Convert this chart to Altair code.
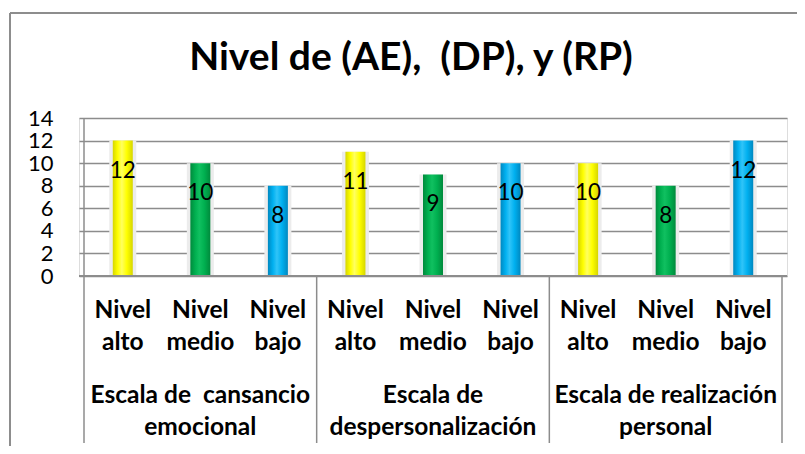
import altair as alt
import pandas as pd

# ---- data ----
title_text = ["Nivel de (AE), \u00a0(DP), y (RP)"]
groups = ["cansancio", "despersonalizacion", "realizacion"]
group_line1 = ["Escala de \u00a0cansancio", "Escala de", "Escala de realización"]
group_line2 = ["emocional", "despersonalización", "personal"]
levels = ["alto", "medio", "bajo"]
level_line1 = ["Nivel", "Nivel", "Nivel"]
level_line2 = ["alto", "medio", "bajo"]
values = [12, 10, 8, 11, 9, 10, 10, 8, 12]
y_ticks = [0, 2, 4, 6, 8, 10, 12, 14]

rows = []
for gi, g in enumerate(groups):
    for li, lv in enumerate(levels):
        i = gi * 3 + li
        rows.append({"group": g, "level": lv, "pos": i + 0.5, "value": values[i],
                     "l1": level_line1[li], "l2": level_line2[li]})
df = pd.DataFrame(rows)

gdf = pd.DataFrame({"pos": [gi * 3 + 1.5 for gi in range(len(groups))],
                    "g1": group_line1, "g2": group_line2})
sep = pd.DataFrame({"pos": [0, 3, 6, 9], "top": [14, 0, 0, 0]})
tdf = pd.DataFrame({"t": title_text})

W, H = 708, 158
GRID = "#8c8c8c"
FONT = "Lato"
CAT_FS = 24.5

x = alt.X("pos:Q", scale=alt.Scale(domain=[0, 9]), axis=None)
yscale = alt.Scale(domain=[0, 14], nice=False)
yaxis = alt.Axis(values=y_ticks, tickCount=8, grid=True, gridColor=GRID, gridWidth=1.5,
                 gridOpacity=1, domain=False, ticks=False, labelPadding=26,
                 labelOverlap=False, labelFont=FONT, labelFontSize=22,
                 labelColor="black")
Y = alt.Y("value:Q", scale=yscale, title=None, axis=yaxis)

base = alt.Chart(df)

shadow = base.mark_bar(size=27, color="#ececec").encode(x=x, y=Y)

def grad(c_edge, c_mid, c_hi):
    return {"gradient": "linear", "x1": 0, "x2": 1, "y1": 0, "y2": 0,
            "stops": [{"offset": 0, "color": c_edge},
                      {"offset": 0.25, "color": c_mid},
                      {"offset": 0.45, "color": c_hi},
                      {"offset": 0.7, "color": c_mid},
                      {"offset": 1, "color": c_edge}]}

colors = {
    "alto": grad("#d6d600", "#ffff00", "#ffff60"),
    "medio": grad("#008a3c", "#00b050", "#10c060"),
    "bajo": grad("#0088c0", "#00b0f0", "#30c4f8"),
}

bars = [
    base.transform_filter(alt.datum.level == lv).mark_bar(size=20, color=colors[lv]).encode(
        x=x, y=Y)
    for lv in levels
]

labels = base.mark_text(fontSize=22.5, font=FONT, color="black", baseline="middle", dy=30).encode(
    x=x, y=Y, text="value:Q")

def cat_text(ch, field, ypix):
    return ch.mark_text(fontSize=CAT_FS, font=FONT, fontWeight="bold", color="black",
                        baseline="middle").encode(x=x, y=alt.value(ypix), text=f"{field}:N")

lvl1 = cat_text(base, "l1", H + 35)
lvl2 = cat_text(base, "l2", H + 67)
gch = alt.Chart(gdf)
grp1 = cat_text(gch, "g1", H + 120)
grp2 = cat_text(gch, "g2", H + 152)

seps = alt.Chart(sep).mark_rule(color=GRID, strokeWidth=1.5).encode(
    x=x, y=alt.Y("top:Q", scale=yscale, title=None, axis=yaxis), y2=alt.value(H + 167))

base_line = alt.Chart(sep).mark_rule(color=GRID, strokeWidth=1.5).encode(
    x=alt.value(0), x2=alt.value(W), y=alt.value(H))

border_top = alt.Chart(sep).mark_rule(color=GRID, strokeWidth=1.5).encode(
    x=alt.value(-69), x2=alt.value(W + 12), y=alt.value(-105))
border_left = alt.Chart(sep).mark_rule(color=GRID, strokeWidth=1.5).encode(
    x=alt.value(-69), y=alt.value(-105), y2=alt.value(H + 172))

title = alt.Chart(tdf).mark_text(fontSize=39, font=FONT, fontWeight="bold", color="black",
                                 baseline="alphabetic", align="center").encode(
    x=alt.value(W / 2 - 22), y=alt.value(-48), text="t:N")

chart = alt.layer(
    border_top, border_left, shadow, *bars, labels, seps, base_line,
    lvl1, lvl2, grp1, grp2, title,
).properties(
    width=W, height=H,
    autosize=alt.AutoSizeParams(type="none"),
    padding={"left": 71, "top": 110, "right": 10, "bottom": 170},
).configure_view(stroke=None).configure(background="white")

chart.save("out.html", embed_options={"renderer": "svg", "actions": False})
